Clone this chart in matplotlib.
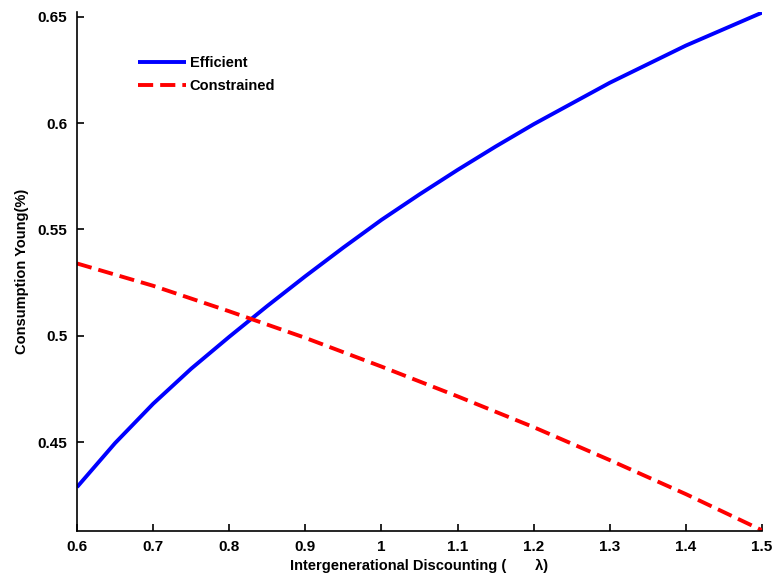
import matplotlib
matplotlib.use("Agg")
import matplotlib.pyplot as plt

plt.rcParams['font.family'] = ['Liberation Sans', 'DejaVu Sans']

lam = [0.6, 0.65, 0.7, 0.75, 0.8, 0.85, 0.9, 0.95, 1.0, 1.05, 1.1, 1.15,
       1.2, 1.3, 1.4, 1.5]
efficient = [0.4288, 0.4495, 0.4680, 0.4845, 0.4995, 0.5140, 0.5280, 0.5415,
             0.5545, 0.5665, 0.5780, 0.5890, 0.5995, 0.6190, 0.6365, 0.6520]
lam_c = [0.6, 0.7, 0.8, 0.9, 1.0, 1.1, 1.2, 1.3, 1.4, 1.5]
constrained = [0.5340, 0.5235, 0.5115, 0.4990, 0.4855, 0.4715, 0.4570, 0.4415,
               0.4255, 0.4085]

xticks = [0.6, 0.7, 0.8, 0.9, 1.0, 1.1, 1.2, 1.3, 1.4, 1.5]
xticklabels = ['0.6', '0.7', '0.8', '0.9', '1', '1.1', '1.2', '1.3', '1.4', '1.5']
yticks = [0.45, 0.5, 0.55, 0.6, 0.65]
yticklabels = ['0.45', '0.5', '0.55', '0.6', '0.65']

fig = plt.figure(figsize=(7.74, 5.8), dpi=100)
ax = fig.add_axes([0.0995, 0.085, 0.885, 0.894])

ax.plot(lam, efficient, color='#0000ff', lw=2.8, label='Efficient',
        solid_capstyle='butt', solid_joinstyle='round')
ax.plot(lam_c, constrained, color='#ff0000', lw=2.8, dashes=(3.9, 1.8),
        label='Constrained')

ax.set_xlim(0.6, 1.5)
ax.set_ylim(0.4083, 0.6522)
ax.set_xticks(xticks)
ax.set_xticklabels(xticklabels)
ax.set_yticks(yticks)
ax.set_yticklabels(yticklabels)

for s in ['top', 'right']:
    ax.spines[s].set_visible(False)
for s in ['left', 'bottom']:
    ax.spines[s].set_linewidth(1.2)

ax.tick_params(direction='in', length=5, width=1.2, labelsize=11, pad=7)
for lbl in ax.get_xticklabels() + ax.get_yticklabels():
    lbl.set_fontweight('bold')

ax.set_xlabel('Intergenerational Discounting (       \u03bb)', fontsize=10.5,
              fontweight='bold', labelpad=3)
ax.set_ylabel('Consumption Young(%)', fontsize=10.5, fontweight='bold', labelpad=6)

leg = ax.legend(loc='upper left', bbox_to_anchor=(0.07, 0.94), frameon=False,
                prop={'weight': 'bold', 'size': 10.5}, handlelength=3.3,
                handletextpad=0.25, labelspacing=0.6)

fig.savefig('out.png', dpi=100)
